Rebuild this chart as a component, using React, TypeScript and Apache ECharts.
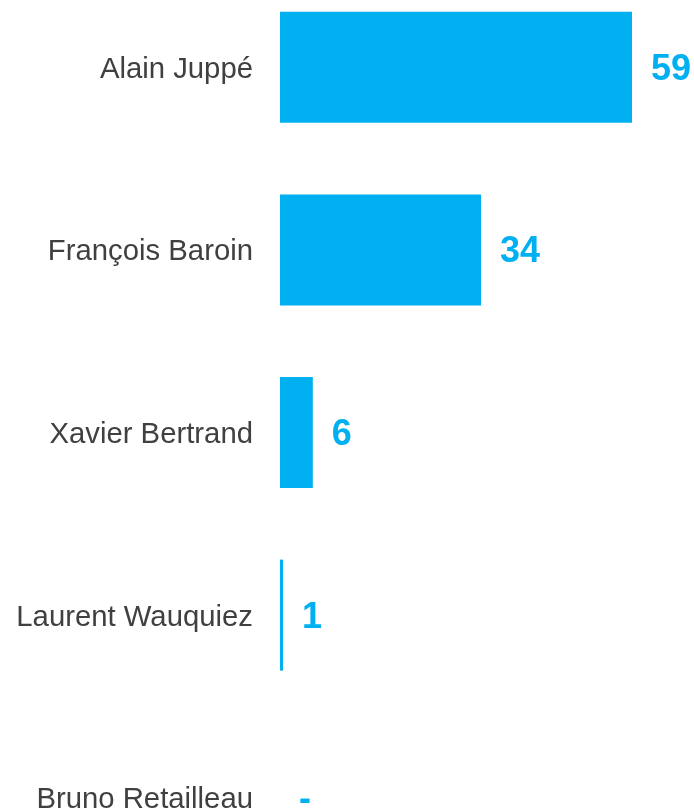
import React, { useEffect, useRef } from "react";
import * as echarts from "echarts";

const categories = ["Alain Juppé", "François Baroin", "Xavier Bertrand", "Laurent Wauquiez", "Bruno Retailleau"];
const values = [59, 33.7, 5.5, 0.5, 0];

const BLUE = "#00B0F0";

export default function App() {
  const ref = useRef<HTMLDivElement>(null);
  useEffect(() => {
    if (!ref.current) return;
    const chart = echarts.init(ref.current, undefined, { renderer: "svg" });
    chart.setOption({
      animation: false,
      grid: { left: 280, width: 352, top: 0, bottom: 0, containLabel: false },
      xAxis: {
        type: "value",
        min: 0,
        max: 59,
        show: false,
      },
      yAxis: {
        type: "category",
        data: categories,
        inverse: true,
        axisLine: { show: false },
        axisTick: { show: false },
        splitLine: { show: false },
        axisLabel: {
          color: "#404040",
          fontSize: 29.3,
          fontFamily: "Liberation Sans, Arial, sans-serif",
          margin: 27,
        },
      },
      series: [
        {
          type: "bar",
          data: values,
          barWidth: 111,
          itemStyle: { color: BLUE },
          label: {
            show: true,
            position: "right",
            distance: 19,
            color: BLUE,
            fontWeight: "bold",
            fontSize: 36,
            fontFamily: "Liberation Sans, Arial, sans-serif",
            formatter: (p: any) => (p.value === 0 ? "-" : String(Math.round(p.value))),
          },
        },
      ],
    });
    return () => chart.dispose();
  }, []);
  return <div ref={ref} style={{ position: "fixed", left: 0, top: -23.8, width: 694, height: 913.3 }} />;
}
